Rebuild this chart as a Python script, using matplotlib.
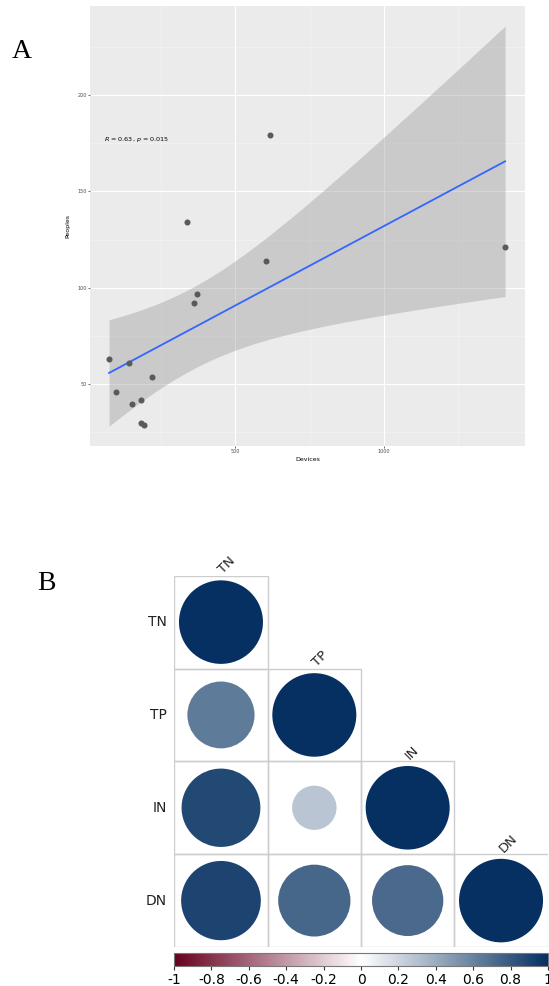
import numpy as np
import matplotlib
matplotlib.use("Agg")
import matplotlib.pyplot as plt
from matplotlib.colors import LinearSegmentedColormap
from matplotlib.patches import Circle, Rectangle
from matplotlib.ticker import FixedLocator

# Panel A data: devices vs peoples
devices = [75, 98, 143, 153, 181, 182, 194, 219, 337, 360, 371, 602, 617, 1407]
peoples = [63, 46, 61, 40, 42, 30, 29, 54, 134, 92, 97, 114, 179, 121]
stat_label = "$\\it{R}$ = 0.63, $\\it{p}$ = 0.015"

# Panel B data: correlation matrix (lower triangle)
variables = ["TN", "TP", "IN", "DN"]
corr_tn = [1.00, 0.64, 0.88, 0.90]
corr_tp = [0.64, 1.00, 0.28, 0.74]
corr_in = [0.88, 0.28, 1.00, 0.72]
corr_dn = [0.90, 0.74, 0.72, 1.00]
cbar_ticks = [-1, -0.8, -0.6, -0.4, -0.2, 0, 0.2, 0.4, 0.6, 0.8, 1]
cbar_labels = ["-1", "-0.8", "-0.6", "-0.4", "-0.2", "0", "0.2", "0.4", "0.6", "0.8", "1"]

W, H = 549, 986
fig = plt.figure(figsize=(W / 100, H / 100), dpi=100)


def frac(left, top, right, bottom):
    # pixel box -> figure fraction [l, b, w, h]
    return [left / W, 1 - bottom / H, (right - left) / W, (bottom - top) / H]


# ---------------- Panel A: scatter + linear fit with 95% CI ----------------
ax = fig.add_axes(frac(90, 6, 525, 446))
ax.set_facecolor("#EBEBEB")
for s in ax.spines.values():
    s.set_visible(False)

x = np.array(devices, dtype=float)
y = np.array(peoples, dtype=float)
n = len(x)
slope, intercept = np.polyfit(x, y, 1)
resid = y - (slope * x + intercept)
s_err = np.sqrt(np.sum(resid ** 2) / (n - 2))
t_crit = 2.178813  # t(0.975, df=12)
xs = np.linspace(x.min(), x.max(), 80)
fit = slope * xs + intercept
se = s_err * np.sqrt(1 / n + (xs - x.mean()) ** 2 / np.sum((x - x.mean()) ** 2))

ax.set_xlim(11, 1474)
ax.set_ylim(18, 246)
ax.xaxis.set_major_locator(FixedLocator([500, 1000]))
ax.xaxis.set_minor_locator(FixedLocator([250, 750, 1250]))
ax.yaxis.set_major_locator(FixedLocator([50, 100, 150, 200]))
ax.yaxis.set_minor_locator(FixedLocator([25, 75, 125, 175, 225]))
ax.grid(which="major", color="white", lw=0.8)
ax.grid(which="minor", color="#F5F5F5", lw=0.4)
ax.set_axisbelow(True)

ax.fill_between(xs, fit - t_crit * se, fit + t_crit * se, color="#999999", alpha=0.4, lw=0, zorder=2)
ax.plot(xs, fit, color="#3366FF", lw=1.3, zorder=3)
ax.scatter(x, y, s=19, color="#5A5A5A", lw=0, zorder=4)

ax.text(59, 177, stat_label, fontsize=4.6, ha="left", va="center")
ax.tick_params(which="major", length=1.5, width=0.5, color="#333333",
               labelsize=3.5, labelcolor="#4D4D4D", pad=1)
ax.tick_params(which="minor", length=0)
ax.set_xlabel("Devices", fontsize=4.5, labelpad=2)
ax.set_ylabel("Peoples", fontsize=4.5, labelpad=5)

fig.text(22 / W, 1 - 52 / H, "A", family="Liberation Serif", fontsize=20, ha="center", va="center")

# ---------------- Panel B: corrplot-style circles ----------------
cmap = LinearSegmentedColormap.from_list("rdbu_corr", ["#67001F", "#FFFFFF", "#053061"])
corr = np.array([corr_tn, corr_tp, corr_in, corr_dn])
k = len(variables)

bx = fig.add_axes(frac(174.3, 575.7, 547.7, 947))
bx.set_xlim(0, k)
bx.set_ylim(0, k)
bx.axis("off")

for i in range(k):
    for j in range(i + 1):
        x0, y0 = j, k - 1 - i
        bx.add_patch(Rectangle((x0, y0), 1, 1, fill=False, ec="#CDCDCD", lw=1.0))
        r = corr[i, j]
        bx.add_patch(Circle((x0 + 0.5, y0 + 0.5), 0.45 * np.sqrt(abs(r)),
                            color=cmap((r + 1) / 2), lw=0))
    bx.text(-0.08, k - 1 - i + 0.5, variables[i], ha="right", va="center", fontsize=10,
            color="#222222")
    bx.text(i + 0.5, k - i + 0.04, variables[i], ha="left", va="center", rotation=45,
            rotation_mode="anchor", fontsize=9.5, color="#222222", clip_on=False)

fig.text(46 / W, 1 - 583 / H, "B", family="Liberation Serif", fontsize=20, ha="center", va="center")

cax = fig.add_axes(frac(174, 953.3, 548, 965.7))
sm = matplotlib.cm.ScalarMappable(cmap=cmap, norm=plt.Normalize(-1, 1))
cb = fig.colorbar(sm, cax=cax, orientation="horizontal")
cb.set_ticks(cbar_ticks)
cb.set_ticklabels(cbar_labels)
cb.outline.set_edgecolor("#777777")
cb.outline.set_linewidth(0.8)
cax.tick_params(length=3, width=0.8, color="#333333", labelsize=10, pad=2)

fig.savefig("out.png", dpi=100)
